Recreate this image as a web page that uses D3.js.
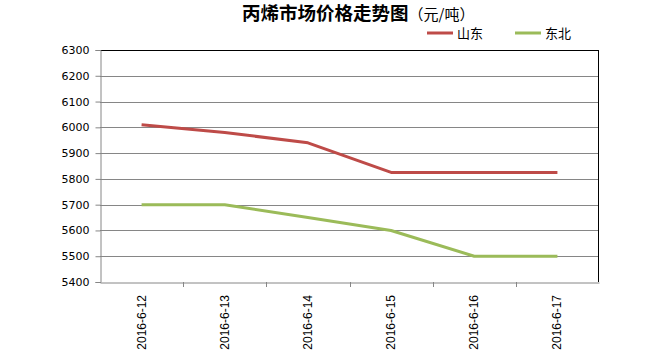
<!DOCTYPE html>
<html>
<head>
<meta charset="utf-8">
<script src="https://cdn.jsdelivr.net/npm/d3@7"></script>
<style>
  body { margin: 0; background: #fff; }
  svg { display: block; }
</style>
</head>
<body>
<div id="chart"></div>
<script>
// 数据
const dates = ['2016-6-12', '2016-6-13', '2016-6-14', '2016-6-15', '2016-6-16', '2016-6-17'];
const shandong = [6010, 5980, 5940, 5825, 5825, 5825];
const dongbei = [5700, 5700, 5650, 5600, 5500, 5500];
const yTicks = [5400, 5500, 5600, 5700, 5800, 5900, 6000, 6100, 6200, 6300];

const series = [
    { name: '山东', values: shandong, color: '#BE4B48' },
    { name: '东北', values: dongbei, color: '#9BBB59' }
];

const width = 660, height = 355;
const margin = { top: 50, right: 61, bottom: 73, left: 100 };
const innerW = width - margin.left - margin.right;
const innerH = height - margin.top - margin.bottom;

const svg = d3.select('#chart').append('svg').attr('width', width).attr('height', height);
const g = svg.append('g').attr('transform', `translate(${margin.left},${margin.top})`);

const x = d3.scaleBand().domain(dates).range([0, innerW]);
const y = d3.scaleLinear().domain([5400, 6300]).range([innerH, 0]);

// 网格线
g.append('g').selectAll('line').data(yTicks.slice(1, -1)).enter().append('line')
    .attr('x1', 0).attr('x2', innerW)
    .attr('y1', d => Math.round(y(d)) + 0.5).attr('y2', d => Math.round(y(d)) + 0.5)
    .attr('stroke', '#868686').attr('stroke-width', 1);

// 外框 (上、右为黑色)
g.append('line').attr('x1', 0).attr('x2', innerW).attr('y1', 0.5).attr('y2', 0.5).attr('stroke', '#000');
g.append('line').attr('x1', innerW - 0.5).attr('x2', innerW - 0.5).attr('y1', 0).attr('y2', innerH).attr('stroke', '#000');

// Y 轴
const yAxis = g.append('g').attr('transform', 'translate(0.5,0)')
    .call(d3.axisLeft(y).tickValues(yTicks).tickSize(5).tickPadding(6).tickFormat(d3.format('d')));
yAxis.select('.domain').attr('stroke', '#868686');
yAxis.selectAll('.tick line').attr('stroke', '#868686');
yAxis.selectAll('text').style('font-family', 'Verdana, "DejaVu Sans", sans-serif').style('font-size', '11px').attr('fill', '#000');

// X 轴
const xAxis = g.append('g').attr('transform', `translate(0,${innerH + 0.5})`)
    .call(d3.axisBottom(x).tickSize(0).tickFormat(''));
xAxis.select('.domain').attr('stroke', '#868686');
// 刻度线在分类边界
g.append('g').selectAll('line').data(dates.slice(1)).enter().append('line')
    .attr('x1', d => Math.round(x(d)) + 0.5).attr('x2', d => Math.round(x(d)) + 0.5)
    .attr('y1', innerH).attr('y2', innerH + 5)
    .attr('stroke', '#868686');

g.append('g').selectAll('text').data(dates).enter().append('text')
    .attr('transform', d => `translate(${x(d) + x.bandwidth() / 2 + 4},${innerH + 13}) rotate(-90)`)
    .attr('text-anchor', 'end')
    .style('font-family', 'Arial, "Liberation Sans", sans-serif').style('font-size', '12px')
    .text(d => d);

// 折线
const line = d3.line().x((d, i) => x(dates[i]) + x.bandwidth() / 2).y(d => y(d));
series.forEach(s => {
    g.append('path').datum(s.values)
        .attr('fill', 'none').attr('stroke', s.color).attr('stroke-width', 3)
        .attr('stroke-linejoin', 'round')
        .attr('d', line);
});

// 标题
const title = svg.append('text').attr('x', 242).attr('y', 20)
    .style('font-family', '"Noto Sans CJK SC", sans-serif').attr('fill', '#000');
title.append('tspan').style('font-size', '18.5px').style('font-weight', 'bold').text('丙烯市场价格走势图');
title.append('tspan').style('font-size', '15px').text('（元/吨）');

// 图例
const legend = svg.append('g');
const legendX = [427, 515];
series.forEach((s, i) => {
    const lg = legend.append('g').attr('transform', `translate(${legendX[i]},33)`);
    lg.append('line').attr('x1', 0).attr('x2', 26).attr('y1', 0).attr('y2', 0)
        .attr('stroke', s.color).attr('stroke-width', 3);
    lg.append('text').attr('x', 30).attr('y', 5)
        .style('font-family', '"Noto Sans CJK SC", sans-serif').style('font-size', '13px')
        .text(s.name);
});
</script>
</body>
</html>
